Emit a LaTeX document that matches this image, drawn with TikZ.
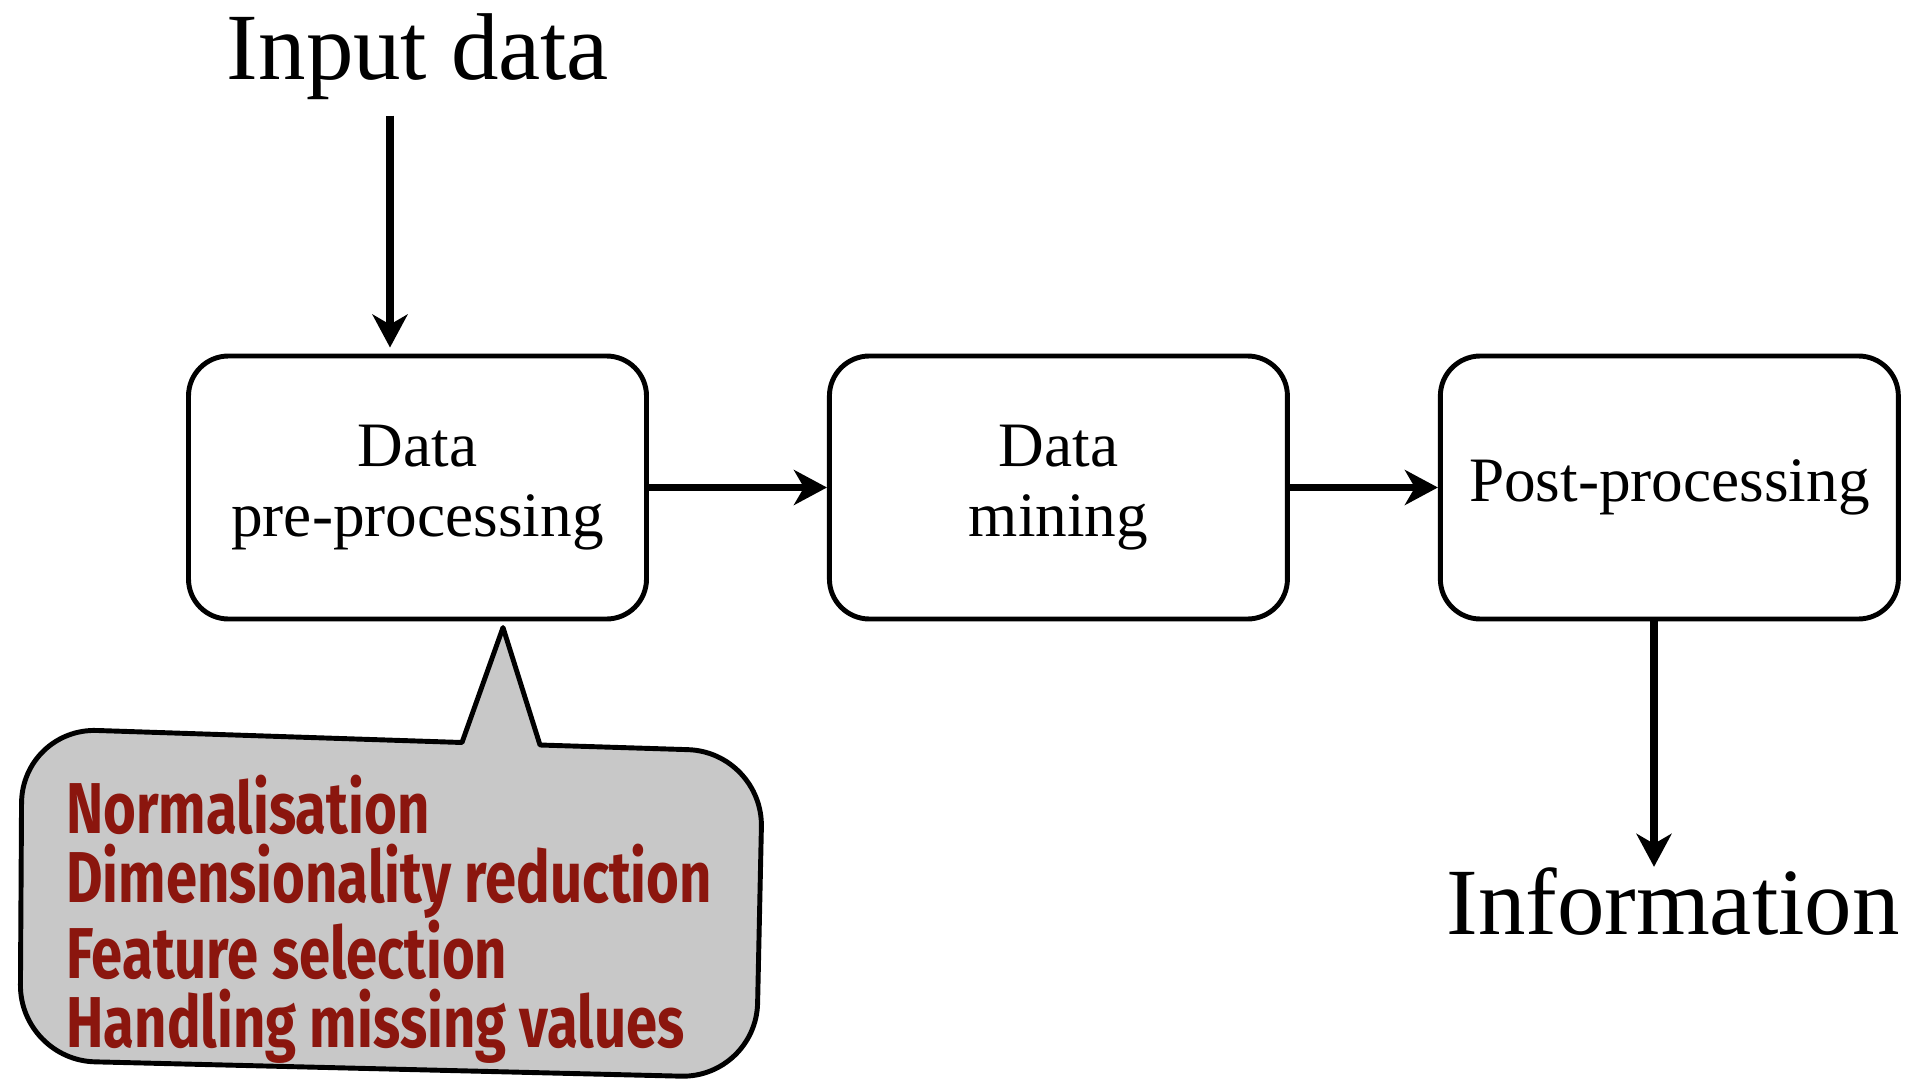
\documentclass[tikz,border=0pt]{standalone}
\usepackage{fontspec}
\setmainfont{Liberation Serif}
\newfontfamily\notefont[FakeStretch=0.78]{Fira Sans}
\usepackage{xcolor}
\usepackage{tikz}
\usetikzlibrary{arrows.meta,positioning,calc}
\definecolor{noteRed}{RGB}{139,22,14}
\definecolor{noteGray}{RGB}{200,200,200}

\begin{document}
\begin{tikzpicture}[
    stage/.style={draw,line width=2.8pt,rounded corners=0.8cm,minimum width=9.16cm,minimum height=5.26cm,align=center,font=\fontsize{36}{40}\selectfont},
    term/.style={inner sep=0pt,font=\fontsize{54}{60}\selectfont},
    arrow/.style={-{Stealth[length=0.66cm,width=0.7cm,inset=0.2cm]},line width=4.4pt},
    bubble/.style={draw,line width=2.8pt,fill=noteGray,line join=round}]
  \useasboundingbox (0,0) rectangle (38.2,-21.6);
  \node[stage] (pre) at (8.35,-9.75) {Data\\pre-processing};
  \node[stage,right=3.56cm of pre] (mining) {Data\\mining};
  \node[stage,right=2.96cm of mining] (post) {Post-processing};
  \node[term,anchor=base] (input) at (8.36,-1.6) {Input data};
  \node[term,anchor=base] (info) at (33.46,-18.68) {Information};
  \coordinate (inx) at (7.8,0);
  \coordinate (outx) at (33.08,0);
  \draw[bubble] (9.24,-14.85) -- (10.06,-12.55) -- (10.8,-14.9) [rounded corners=1.5cm] -- (15.26,-15.04) -- (15.12,-21.56) -- (0.4,-21.2) -- (0.44,-14.56) [sharp corners] -- cycle;
  \node[anchor=north west,inner sep=0pt,align=left,text=noteRed,font=\notefont\bfseries\fontsize{41}{39.2}\selectfont] (steps) at (1.32,-15.5) {Normalisation\\Dimensionality reduction\\Feature selection\\Handling missing values};
  \draw[arrow,shorten >=0.12cm] ($(input.south -| inx)+(0,-0.3)$) -- (pre.north -| inx);
  \draw[arrow] (pre) -- (mining);
  \draw[arrow] (mining) -- (post);
  \draw[arrow] (post.south -| outx) -- (info.north -| outx);
\end{tikzpicture}
\end{document}
